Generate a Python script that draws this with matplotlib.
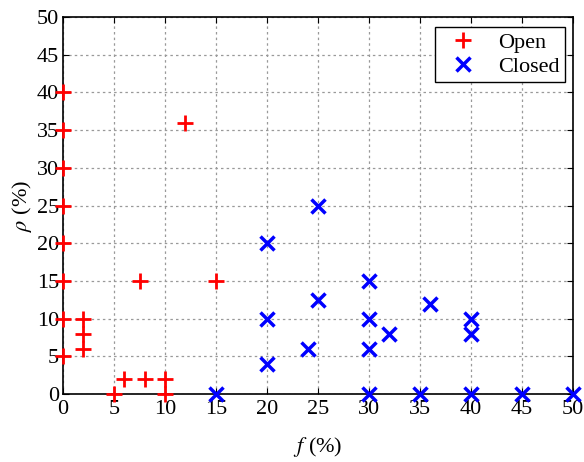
import matplotlib
matplotlib.use("Agg")
import matplotlib.pyplot as plt

plt.rcParams['font.family'] = ['Liberation Serif', 'DejaVu Serif']
plt.rcParams['mathtext.fontset'] = 'stix'

open_f = [0, 0, 0, 0, 0, 0, 0, 0, 2, 2, 2, 5, 6, 8, 10, 10, 7.5, 15, 12]
open_rho = [5, 10, 15, 20, 25, 30, 35, 40, 10, 8, 6, 0, 2, 2, 2, 0, 15, 15, 36]

closed_f = [15, 30, 35, 40, 45, 50, 20, 20, 20, 24, 25, 25, 30, 30, 30, 32, 36, 40, 40]
closed_rho = [0, 0, 0, 0, 0, 0, 20, 10, 4, 6, 25, 12.5, 15, 10, 6, 8, 12, 10, 8]

ticks = list(range(0, 55, 5))

fig = plt.figure(figsize=(5.84, 4.62), dpi=100)
ax = fig.add_axes([0.108, 0.147, 0.873, 0.816])
ax.plot(open_f, open_rho, '+', color='red', markersize=11, mew=2, label='Open', clip_on=False, zorder=3)
ax.plot(closed_f, closed_rho, 'x', color='blue', markersize=10, mew=2.5, label='Closed', clip_on=False, zorder=3)
ax.set_xlim(0, 50)
ax.set_ylim(0, 50)
ax.set_xticks(ticks)
ax.set_yticks(ticks)
ax.tick_params(direction='in', top=True, right=True, labelsize=16, length=4)
ax.tick_params(axis='x', pad=4)
ax.tick_params(axis='y', pad=3)
ax.grid(True, linestyle=(0, (2, 2.5)), color='#999999', linewidth=0.9)
ax.set_axisbelow(True)
for s in ax.spines.values():
    s.set_linewidth(1.2)
ax.set_xlabel(r'$f$ (%)', fontsize=16, labelpad=12)
ax.set_ylabel(r'$\rho$ (%)', fontsize=16, labelpad=2)
leg = ax.legend(loc='upper right', bbox_to_anchor=(0.985, 0.975), fontsize=16, fancybox=False,
                edgecolor='black', framealpha=1,
                handletextpad=0.6, borderpad=0.25, labelspacing=0.15, borderaxespad=0.0)
leg.get_frame().set_linewidth(1.0)
fig.savefig('out.png', dpi=100)
